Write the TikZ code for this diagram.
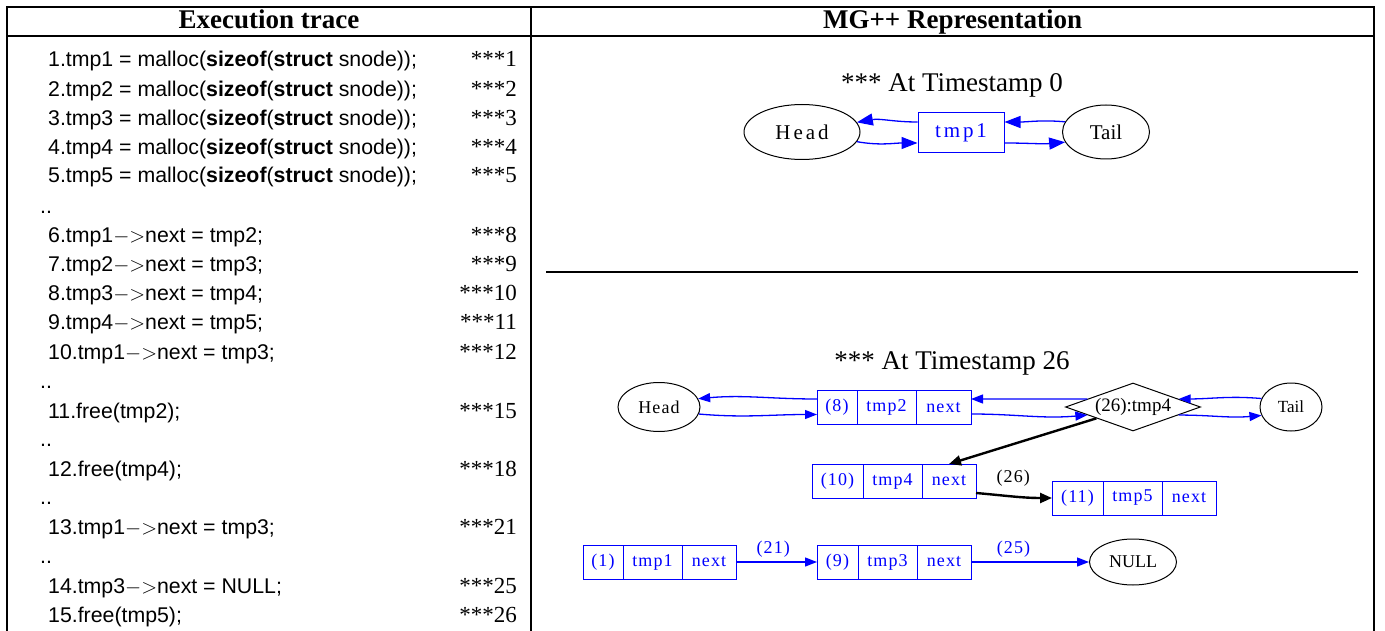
\documentclass[tikz,border=0pt]{standalone}
\usepackage{fontspec}
\setmainfont{Liberation Serif}
\newfontfamily\codefont{Liberation Sans}
\newfontfamily\gvfont[LetterSpace=14]{Liberation Serif}
\newfontfamily\gvklein[LetterSpace=6]{Liberation Serif}
\usetikzlibrary{positioning,shapes.geometric,arrows.meta}

\tikzset{
  code/.style={anchor=base west,inner sep=0pt,font=\codefont\fontsize{21.3}{25}\selectfont},
  sterne/.style={anchor=base east,inner sep=0pt,font=\fontsize{23}{27}\selectfont},
  kopf/.style={anchor=base,inner sep=0pt,font=\bfseries\fontsize{27}{30}\selectfont},
  titel/.style={anchor=base,inner sep=0pt,font=\fontsize{27}{30}\selectfont},
  oval/.style={draw,ellipse,line width=1pt,inner sep=0pt},
  feld/.style={draw=blue,text=blue,line width=1pt,inner sep=0pt,outer sep=0pt,
    minimum height=34pt,font=\gvklein\fontsize{18}{20}\selectfont},
  link/.style={blue,line width=1.3pt,-{Triangle[length=12pt,width=9pt]}},
  linkgross/.style={blue,line width=1.3pt,-{Triangle[length=16pt,width=12pt]}},
  zeiger/.style={black,line width=2.4pt,-{Triangle[length=12pt,width=10pt]}},
  marke/.style={inner sep=0pt,font=\gvklein\fontsize{18}{20}\selectfont},
}

\begin{document}
\begin{tikzpicture}[x=1pt,y=-1pt]
		\useasboundingbox (0,0) rectangle (1385,631);
		%Tabelle
		\draw[line width=1.1pt] (7,640) -- (7,7) -- (1374,7) -- (1374,640);
		\draw[line width=1.1pt] (7,36) -- (1374,36);
		\draw[line width=1.1pt] (531,7) -- (531,640);
		\draw[line width=1.1pt] (546,272) -- (1358,272);
		\node[kopf] (k1) at (269,28.5) {Execution trace};
		\node[kopf] (k2) at (952.5,28.5) {MG++ Representation};
		
		%Ablauf links
		\foreach \y/\txt/\nr in {
			67/{1.tmp1 = malloc(\textbf{sizeof}(\textbf{struct} snode));}/1,
			97/{2.tmp2 = malloc(\textbf{sizeof}(\textbf{struct} snode));}/2,
			126/{3.tmp3 = malloc(\textbf{sizeof}(\textbf{struct} snode));}/3,
			155/{4.tmp4 = malloc(\textbf{sizeof}(\textbf{struct} snode));}/4,
			183/{5.tmp5 = malloc(\textbf{sizeof}(\textbf{struct} snode));}/5,
			243/{6.tmp1$-$$>$next = tmp2;}/8,
			272/{7.tmp2$-$$>$next = tmp3;}/9,
			301/{8.tmp3$-$$>$next = tmp4;}/10,
			330/{9.tmp4$-$$>$next = tmp5;}/11,
			359/{10.tmp1$-$$>$next = tmp3;}/12,
			418/{11.free(tmp2);}/15,
			476/{12.free(tmp4);}/18,
			534/{13.tmp1$-$$>$next = tmp3;}/21,
			593/{14.tmp3$-$$>$next = NULL;}/25,
			622/{15.free(tmp5);}/26}{
			\node[code] (z\nr) at (48,\y) {\txt};
			\node[sterne] (s\nr) at (517,\y) {***\nr};
		}
		\foreach \y in {212,387,445,503,562}
			\node[code,anchor=west] (p\y) at (40,\y) {..};
		
		%Zeitpunkt 0
		\node[titel] (ts0) at (952,92) {*** At Timestamp 0};
		\node[oval,minimum width=116pt,minimum height=55pt,font=\gvfont\fontsize{21}{24}\selectfont] (head0) at (802,132) {Head};
		\node[draw=blue,text=blue,line width=1pt,minimum width=86pt,minimum height=40pt,font=\gvfont\fontsize{21}{24}\selectfont] (t1) at (961,133) {tmp1};
		\node[oval,minimum width=87pt,minimum height=54pt,font=\fontsize{21}{24}\selectfont] (tail0) at (1106,132) {Tail};
		
		\draw[linkgross] ([yshift=11pt]t1.west) to[out=180,in=10] (head0.10);
		\draw[linkgross] (head0.-10) to[out=-10,in=180] ([yshift=-10pt]t1.west);
		\draw[linkgross] (tail0.166) to[out=175,in=0] ([yshift=11pt]t1.east);
		\draw[linkgross] ([yshift=-10pt]t1.east) to[out=0,in=185] (tail0.194);
		
		%Zeitpunkt 26
		\node[titel] (ts26) at (952,369) {*** At Timestamp 26};
		\node[oval,minimum width=82pt,minimum height=49pt,font=\gvklein\fontsize{18}{20}\selectfont] (head1) at (659,407) {Head};
		\node[feld,minimum width=40pt] (r2a) at (837,407.5) {(8)};
		\node[feld,minimum width=59pt,right=0pt of r2a] (r2b) {tmp2};
		\node[feld,minimum width=55pt,right=0pt of r2b] (r2c) {next};
		\node[draw,diamond,aspect=2.8,inner sep=0pt,minimum width=135pt,minimum height=48pt,line width=1pt,font=\fontsize{19}{21}\selectfont] (dia) at (1133,407) {(26):tmp4};
		\node[oval,minimum width=62pt,minimum height=48pt,font=\fontsize{17}{19}\selectfont] (tail1) at (1291,407) {Tail};
		
		\node[feld,minimum width=51pt] (r4a) at (837.5,481) {(10)};
		\node[feld,minimum width=59pt,right=0pt of r4a] (r4b) {tmp4};
		\node[feld,minimum width=54pt,right=0pt of r4b] (r4c) {next};
		
		\node[feld,minimum width=51pt] (r5a) at (1077.5,498) {(11)};
		\node[feld,minimum width=59pt,right=0pt of r5a] (r5b) {tmp5};
		\node[feld,minimum width=54pt,right=0pt of r5b] (r5c) {next};
		
		\node[feld,minimum width=40pt] (r1a) at (603,562) {(1)};
		\node[feld,minimum width=59pt,right=0pt of r1a] (r1b) {tmp1};
		\node[feld,minimum width=54pt,right=0pt of r1b] (r1c) {next};
		
		\node[feld,minimum width=41pt] (r3a) at (837.5,562) {(9)};
		\node[feld,minimum width=59pt,right=0pt of r3a] (r3b) {tmp3};
		\node[feld,minimum width=54pt,right=0pt of r3b] (r3c) {next};
		
		\node[oval,minimum width=87pt,minimum height=46pt,font=\fontsize{18}{20}\selectfont] (nul) at (1133,562) {NULL};
		
		\draw[link] ([yshift=8.5pt]r2a.west) to[out=180,in=5] (head1.12);
		\draw[link] (head1.-10) to[out=-5,in=180] ([yshift=-7pt]r2a.west);
		\draw[link] (dia.170) to[out=180,in=0] ([yshift=8.5pt]r2c.east);
		\draw[link] ([yshift=-6.5pt]r2c.east) to[out=0,in=185] (dia.190);
		\draw[link] (tail1.164) to[out=175,in=0] (dia.10);
		\draw[link] (dia.-10) to[out=0,in=185] (tail1.196);
		
		\draw[zeiger] (dia) -- (r4c.north);
		\draw[zeiger] ([yshift=-12pt]r4c.east) to[out=-5,in=180] node[pos=.49,above=9pt,marke] {(26)} (r5a.west);
		
		\draw[link] (r1c.east) -- node[pos=.46,above=4pt,marke,text=blue] {(21)} (r3a.west);
		\draw[link] (r3c.east) -- node[pos=.36,above=4pt,marke,text=blue] {(25)} (nul.west);
		
		\end{tikzpicture}
\end{document}
